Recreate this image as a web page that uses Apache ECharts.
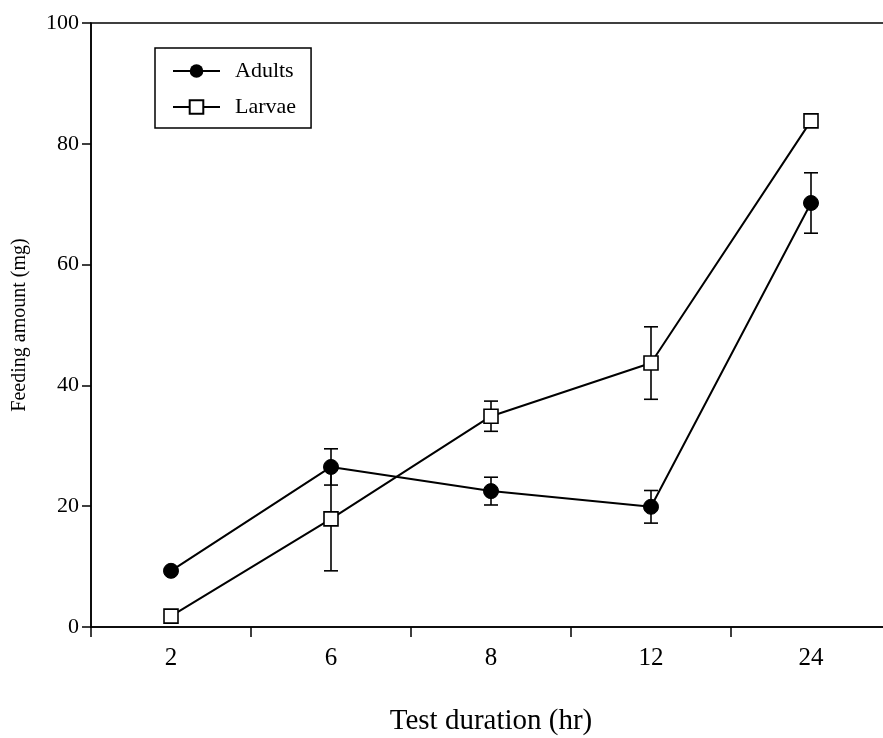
<!DOCTYPE html>
<html>
<head>
<meta charset="utf-8">
<script src="https://cdn.jsdelivr.net/npm/echarts@6/dist/echarts.min.js"></script>
<style>
  html, body { margin: 0; padding: 0; background: #fff; }
</style>
</head>
<body>
<div id="main" style="width: 883px; height: 738px;"></div>
<script type="text/javascript">
var categories = ['2', '6', '8', '12', '24'];
var adults = [9.3, 26.5, 22.5, 19.9, 70.2];
var adultsErr = [0, 3.0, 2.3, 2.7, 5.0];
var larvae = [1.8, 17.9, 34.9, 43.7, 83.8];
var larvaeErr = [0, 8.6, 2.5, 6.0, 0];
var yTicks = [0, 20, 40, 60, 80, 100];

var FONT = 'Liberation Serif';
var myChart = echarts.init(document.getElementById('main'));

function errData(vals, errs) {
    var out = [];
    for (var i = 0; i < vals.length; i++) {
        if (errs[i] > 0) out.push([i, vals[i] - errs[i], vals[i] + errs[i]]);
    }
    return out;
}

function renderErr(params, api) {
    var lo = api.coord([api.value(0), api.value(1)]);
    var hi = api.coord([api.value(0), api.value(2)]);
    var w = 7;
    var style = { stroke: '#000', lineWidth: 1.6 };
    return {
        type: 'group',
        children: [
            { type: 'line', shape: { x1: lo[0], y1: lo[1], x2: hi[0], y2: hi[1] }, style: style },
            { type: 'line', shape: { x1: lo[0] - w, y1: lo[1], x2: lo[0] + w, y2: lo[1] }, style: style },
            { type: 'line', shape: { x1: hi[0] - w, y1: hi[1], x2: hi[0] + w, y2: hi[1] }, style: style }
        ]
    };
}

var option = {
    backgroundColor: '#fff',
    animation: false,
    textStyle: { fontFamily: FONT, color: '#000' },
    grid: {
        left: 91, top: 23, width: 800, height: 604,
        outerBoundsMode: 'none',
        show: true, borderColor: '#000', borderWidth: 1.5,
        backgroundColor: 'transparent'
    },
    legend: {
        left: 155, top: 48,
        orient: 'vertical',
        itemGap: 14,
        itemWidth: 47, itemHeight: 17,
        padding: [12, 15, 10, 17],
        borderColor: '#000', borderWidth: 1.5,
        textStyle: { fontFamily: FONT, fontSize: 22, color: '#000', padding: [0, 0, 0, 10] },
        data: ['Adults', 'Larvae']
    },
    xAxis: {
        type: 'category',
        data: categories,
        boundaryGap: true,
        name: 'Test duration (hr)',
        nameLocation: 'middle',
        nameGap: 80,
        nameTextStyle: { fontFamily: FONT, fontSize: 29, color: '#000' },
        axisLine: { lineStyle: { color: '#000', width: 1.5 } },
        axisTick: { show: true, length: 10, interval: 0, alignWithLabel: false, lineStyle: { color: '#000', width: 1.5 } },
        axisLabel: { margin: 19, fontFamily: FONT, fontSize: 25, color: '#000' },
        splitLine: { show: false }
    },
    yAxis: {
        type: 'value',
        min: 0, max: 100, interval: 20,
        name: 'Feeding amount (mg)',
        nameLocation: 'middle',
        nameGap: 61,
        nameTextStyle: { fontFamily: FONT, fontSize: 20, color: '#000' },
        axisLine: { show: true, lineStyle: { color: '#000', width: 1.5 } },
        axisTick: { show: true, length: 9, lineStyle: { color: '#000', width: 1.5 } },
        axisLabel: {
            margin: 12, fontFamily: FONT, fontSize: 22, color: '#000',
            formatter: function (v) { return yTicks.indexOf(v) >= 0 ? String(v) : ''; }
        },
        splitLine: { show: false }
    },
    series: [
        {
            name: 'Adults-err', type: 'custom', renderItem: renderErr,
            data: errData(adults, adultsErr), z: 1, silent: true
        },
        {
            name: 'Larvae-err', type: 'custom', renderItem: renderErr,
            data: errData(larvae, larvaeErr), z: 1, silent: true
        },
        {
            name: 'Adults', type: 'line', data: adults,
            symbol: 'circle', symbolSize: 15,
            lineStyle: { color: '#000', width: 2 },
            itemStyle: { color: '#000', borderColor: '#000' },
            z: 3
        },
        {
            name: 'Larvae', type: 'line', data: larvae,
            symbol: 'rect', symbolSize: 14,
            lineStyle: { color: '#000', width: 2 },
            itemStyle: { color: '#fff', borderColor: '#000', borderWidth: 1.6 },
            z: 3
        }
    ]
};
myChart.setOption(option);
</script>
</body>
</html>
